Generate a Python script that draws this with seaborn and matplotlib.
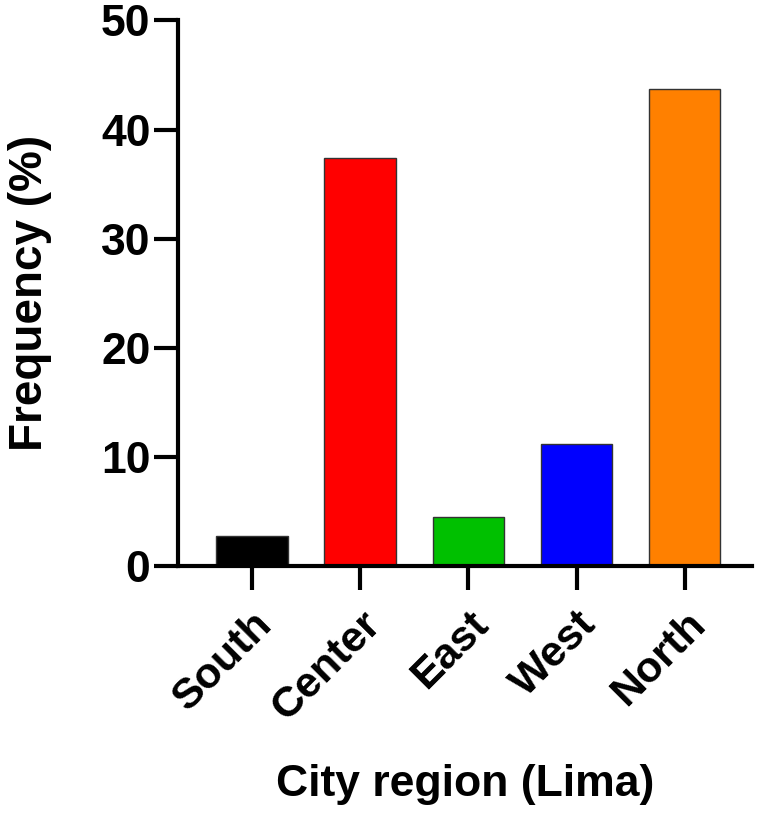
import matplotlib.pyplot as plt
import pandas as pd
import seaborn as sns

regions = ["South", "Center", "East", "West", "North"]
frequency = [2.8, 37.4, 4.5, 11.2, 43.7]
bar_colors = ["#000000", "#FF0000", "#00C000", "#0000FF", "#FF8000"]
y_ticks = [0, 10, 20, 30, 40, 50]

sns.set_style("ticks")
plt.rcParams["font.family"] = ["Liberation Sans", "DejaVu Sans"]
plt.rcParams["font.weight"] = "bold"
plt.rcParams["text.color"] = "black"
plt.rcParams["axes.labelcolor"] = "black"

df = pd.DataFrame({"region": regions, "freq": frequency})

fig = plt.figure(figsize=(7.68, 8.16), dpi=100)
ax = fig.add_axes([0.232, 0.306, 0.747, 0.669])
sns.barplot(
    data=df,
    x="region",
    y="freq",
    hue="region",
    palette=dict(zip(regions, bar_colors)),
    order=regions,
    width=0.66,
    saturation=1,
    edgecolor="#333333",
    linewidth=1,
    legend=False,
    ax=ax,
)

ax.set_ylim(0, 50)
ax.set_xlim(-0.68, 4.62)
ax.set_yticks(y_ticks)
ax.set_yticklabels([str(t) for t in y_ticks], fontsize=32, fontweight="bold")
ax.set_xticks(range(len(regions)))
ax.set_xticklabels(regions, fontsize=31, fontweight="bold", rotation=45,
                   ha="right", rotation_mode="anchor")
ax.tick_params(axis="both", length=17, width=3, direction="out", colors="black")
ax.tick_params(axis="y", pad=3)
ax.tick_params(axis="x", pad=10)

for side in ["top", "right"]:
    ax.spines[side].set_visible(False)
for side in ["left", "bottom"]:
    ax.spines[side].set_linewidth(3)
    ax.spines[side].set_color("black")

ax.set_xlabel("City region (Lima)", fontsize=32, fontweight="bold", labelpad=26)
ax.set_ylabel("Frequency (%)", fontsize=33, fontweight="bold", labelpad=35)

fig.savefig("out.png", dpi=100)
